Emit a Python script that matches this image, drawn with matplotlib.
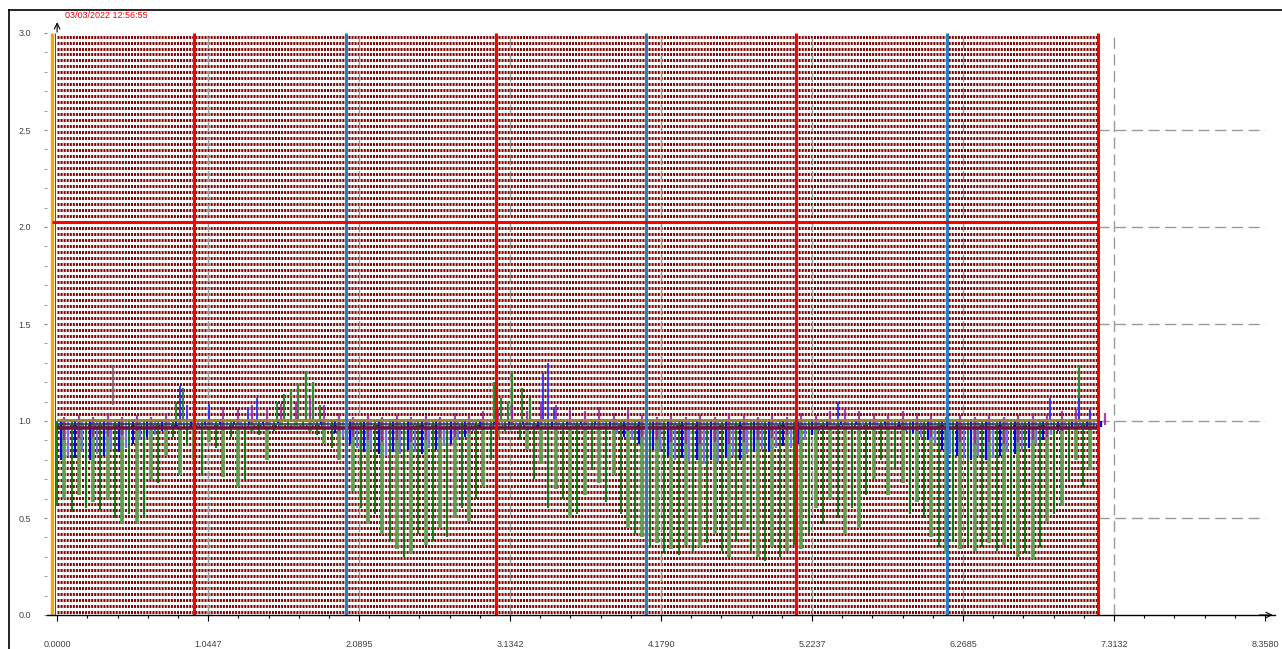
import numpy as np
import matplotlib
matplotlib.use("Agg")
import matplotlib.pyplot as plt
from matplotlib.lines import Line2D

plt.rcParams["font.family"] = ["Liberation Sans", "DejaVu Sans"]

timestamp = "03/03/2022 12:56:55"

x_max = 8.358
x_tick_labels = ["0.0000", "1.0447", "2.0895", "3.1342", "4.1790",
                 "5.2237", "6.2685", "7.3132", "8.3580"]
y_ticks = [0.0, 0.5, 1.0, 1.5, 2.0, 2.5, 3.0]
y_tick_labels = ["0.0", "0.5", "1.0", "1.5", "2.0", "2.5", "3.0"]

# sample spacing of the stems along x
sample_step = 0.05

# lower end of the green stems (one per sample)
green_low = [
    0.56, 0.60, 0.53, 0.62, 0.55, 0.58, 0.54, 0.60, 0.50, 0.47,
    0.52, 0.47, 0.50, 0.70, 0.68, 0.82, 0.92, 0.72, 0.87, 0.80,
    0.72, 0.89, 0.86, 0.71, 0.92, 0.66, 0.70, 0.95, 0.93, 0.80,
    0.95, 0.96, 0.97, 0.96, 0.97, 0.95, 0.93, 0.88, 0.86, 0.80,
    0.76, 0.64, 0.55, 0.47, 0.52, 0.42, 0.38, 0.34, 0.30, 0.32,
    0.42, 0.36, 0.38, 0.45, 0.40, 0.50, 0.55, 0.48, 0.60, 0.66,
    0.80, 0.92, 0.95, 0.96, 0.90, 0.85, 0.70, 0.78, 0.55, 0.65,
    0.60, 0.50, 0.52, 0.62, 0.75, 0.68, 0.58, 0.72, 0.52, 0.45,
    0.42, 0.40, 0.35, 0.37, 0.32, 0.34, 0.31, 0.36, 0.33, 0.35,
    0.37, 0.42, 0.33, 0.30, 0.38, 0.44, 0.33, 0.30, 0.28, 0.35,
    0.30, 0.33, 0.36, 0.34, 0.42, 0.55, 0.47, 0.60, 0.50, 0.42,
    0.55, 0.45, 0.62, 0.70, 0.80, 0.62, 0.75, 0.68, 0.52, 0.58,
    0.50, 0.40, 0.35, 0.32, 0.38, 0.34, 0.36, 0.33, 0.35, 0.37,
    0.33, 0.36, 0.34, 0.30, 0.32, 0.29, 0.35, 0.48, 0.52, 0.56,
    0.70, 0.80, 0.66, 0.75, 0.58,
]
green_spike_x = [0.82, 0.87, 1.52, 1.57, 1.62, 1.67, 1.72, 1.77, 1.82,
                 3.02, 3.07, 3.12, 3.15, 3.22, 3.27, 7.07]
green_spike_top = [1.10, 1.17, 1.10, 1.14, 1.16, 1.19, 1.26, 1.20, 1.08,
                   1.20, 1.12, 1.10, 1.26, 1.17, 1.12, 1.29]

# lower end of the blue stems
blue_low = [
    0.80, 0.82, 0.81, 0.84, 0.80, 0.83, 0.82, 0.85, 0.84, 0.86,
    0.88, 0.90, 0.92, 0.93, 0.95, 0.97, 0.96, 0.98, 0.97, 0.96,
    0.98, 0.97, 0.98, 0.96, 0.98, 0.97, 0.98, 0.99, 0.98, 0.97,
    0.99, 1.00, 1.00, 1.01, 1.00, 0.99, 0.98, 0.96, 0.94, 0.92,
    0.88, 0.86, 0.84, 0.85, 0.83, 0.82, 0.84, 0.83, 0.85, 0.84,
    0.83, 0.86, 0.85, 0.87, 0.88, 0.90, 0.92, 0.95, 0.96, 0.97,
    0.98, 0.99, 0.98, 0.99, 0.98, 0.97, 0.96, 0.98, 0.97, 0.98,
    0.98, 0.97, 0.98, 0.99, 0.98, 0.97, 0.96, 0.94, 0.92, 0.90,
    0.88, 0.86, 0.85, 0.84, 0.82, 0.80, 0.81, 0.79, 0.80, 0.78,
    0.80, 0.79, 0.81, 0.82, 0.80, 0.83, 0.84, 0.85, 0.84, 0.86,
    0.87, 0.86, 0.88, 0.90, 0.93, 0.95, 0.96, 0.97, 0.98, 0.97,
    0.98, 0.99, 0.98, 0.97, 0.98, 0.97, 0.96, 0.95, 0.94, 0.92,
    0.90, 0.88, 0.85, 0.83, 0.82, 0.81, 0.80, 0.82, 0.80, 0.81,
    0.82, 0.84, 0.83, 0.85, 0.86, 0.88, 0.90, 0.93, 0.95, 0.96,
    0.97, 0.96, 0.97, 0.98, 0.97,
]
blue_spike_x = [0.85, 0.90, 1.05, 1.32, 1.38, 3.36, 3.40, 3.44, 5.40, 6.87, 7.07, 7.15]
blue_spike_top = [1.18, 1.08, 1.09, 1.07, 1.12, 1.25, 1.30, 1.07, 1.10, 1.12, 1.12, 1.06]

# purple stems, one every 0.1
purple_top = [
    1.02, 1.03, 1.02, 1.04, 1.02, 1.03, 1.02, 1.04, 1.06, 1.08,
    1.05, 1.07, 1.06, 1.08, 1.07, 1.09, 1.10, 1.12, 1.08, 1.04,
    1.02, 1.03, 1.02, 1.03, 1.02, 1.03, 1.02, 1.04, 1.03, 1.05,
    1.06, 1.08, 1.05, 1.10, 1.08, 1.06, 1.05, 1.07, 1.04, 1.06,
    1.03, 1.02, 1.03, 1.02, 1.03, 1.02, 1.04, 1.03, 1.02, 1.03,
    1.02, 1.04, 1.03, 1.05, 1.06, 1.05, 1.04, 1.03, 1.05, 1.04,
    1.03, 1.02, 1.03, 1.02, 1.03, 1.02, 1.03, 1.04, 1.03, 1.05,
    1.06, 1.05, 1.04,
]
purple_bottom = [
    0.90, 0.91, 0.92, 0.92, 0.93, 0.95, 0.96, 0.97, 0.98, 0.98,
    0.98, 0.97, 0.98, 0.99, 0.99, 1.00, 1.00, 1.00, 0.98, 0.95,
    0.92, 0.90, 0.89, 0.90, 0.89, 0.90, 0.91, 0.92, 0.94, 0.97,
    0.98, 0.99, 0.98, 0.99, 0.99, 0.98, 0.98, 0.97, 0.97, 0.95,
    0.92, 0.90, 0.89, 0.88, 0.88, 0.89, 0.88, 0.89, 0.90, 0.91,
    0.93, 0.96, 0.97, 0.98, 0.98, 0.97, 0.98, 0.97, 0.96, 0.95,
    0.92, 0.90, 0.89, 0.88, 0.89, 0.88, 0.89, 0.90, 0.92, 0.95,
    0.97, 0.97, 0.98,
]

gray_spike_x = [0.39]
gray_spike_low = [1.08]
gray_spike_top = [1.29]

red_markers = [0.948, 3.038, 5.114, 7.204]
blue_markers = [2.0, 4.076, 6.159]
red_level = 2.026
band_levels = [1.005, 0.985, 0.962]
band_colors = ["#a08a30", "#303a50", "#6a1840"]
data_end = 7.204

fig = plt.figure(figsize=(12.82, 6.49), dpi=100)
ax = fig.add_axes([47 / 1282, 34 / 649, 1228 / 1282, 582 / 649])
ax.set_xlim(-0.07, 8.427)
ax.set_ylim(0, 3.0)

# horizontal grid only shows right of the background rows
ax.hlines(y_ticks[1:6], data_end, x_max, colors="#9a9a9a", lw=1.0,
          linestyles=[(0, (8, 4))], zorder=0.5)

# dense dark-red dashed background rows
rows = np.arange(0.0155, 3.0, 0.0309)
ax.hlines(rows, 0, data_end, colors="#800000", lw=2.1,
          linestyles=[(0, (0.7, 0.35))], zorder=1)

major_x = np.linspace(0, x_max, 9)
ax.vlines(major_x[1:8], 0, 3.0, colors="#9a9a9a", lw=1.0,
          linestyles=[(0, (8, 4))], zorder=1.5)

# stems
gx = np.arange(len(green_low)) * sample_step
green_colors = ["#007a00", "#5f9f4f"] * len(green_low)
green_widths = [1.3, 2.6] * len(green_low)
ax.vlines(gx, green_low, 1.0, colors=green_colors[:len(gx)],
          lw=green_widths[:len(gx)], zorder=3)
ax.vlines(green_spike_x, 1.0, green_spike_top, colors="#2e8b2e", lw=1.6, zorder=3)

bx = np.arange(len(blue_low)) * sample_step + sample_step / 2
blue_colors = ["#0000ff", "#7070f0"] * len(blue_low)
ax.vlines(bx, blue_low, 1.0, colors=blue_colors[:len(bx)], lw=1.6, zorder=3.2)
ax.vlines(blue_spike_x, 1.0, blue_spike_top, colors="#3030ff", lw=1.3, zorder=3.2)

px = np.arange(len(purple_top)) * 0.1 + 0.05
ax.vlines(px, purple_bottom, purple_top, colors="#a020a0", lw=1.6, alpha=0.85, zorder=3.1)
ax.vlines(gray_spike_x, gray_spike_low, gray_spike_top, colors="#806070", lw=1.2, zorder=3)

ax.hlines(band_levels, 0, data_end, colors=band_colors, lw=[1.8, 1.2, 2.6], zorder=3.5)

# markers
ax.vlines(-0.035, 0, 3.0, colors="#ffa500", lw=2.4, zorder=5)
ax.vlines(-0.012, 0, 3.0, colors="#ff0000", lw=0.7, zorder=5)
ax.vlines(red_markers, 0, 3.0, colors="#ff0000", lw=2.2, zorder=5)
ax.vlines(blue_markers, 0, 3.0, colors="#2a7fc4", lw=2.2, zorder=5)
ax.hlines(red_level, -0.035, data_end, colors="#ff0000", lw=2.2, zorder=5)

# axes styling
for side in ["top", "right", "left"]:
    ax.spines[side].set_visible(False)
ax.spines["bottom"].set_color("black")
ax.spines["bottom"].set_linewidth(1.0)
ax.spines["bottom"].set_zorder(6)

ax.set_xticks(major_x)
ax.set_xticklabels(x_tick_labels)
ax.set_xticks(np.linspace(0, x_max, 41), minor=True)
ax.tick_params(axis="x", which="major", length=4.3, width=0.8, pad=13.5,
               labelsize=6.5, labelcolor="#404040", color="black")
ax.tick_params(axis="x", which="minor", length=2.2, width=0.8, color="black")

ax.set_yticks(y_ticks)
ax.set_yticklabels(y_tick_labels)
ax.set_yticks(np.arange(0, 3.01, 0.1), minor=True)
ax.tick_params(axis="y", which="major", length=2.5, width=0.8, pad=9,
               labelsize=6.5, labelcolor="#404040", color="#7090b0")
ax.tick_params(axis="y", which="minor", length=2.0, width=0.6, color="#7090b0")

ax.annotate("", xy=(0, 3.07), xytext=(0, 2.99),
            arrowprops=dict(arrowstyle="->", color="black", lw=0.8),
            annotation_clip=False)
ax.annotate("", xy=(8.43, 0), xytext=(8.3, 0),
            arrowprops=dict(arrowstyle="->", color="black", lw=0.8),
            annotation_clip=False)

fig.text(65 / 1282, 1 - 15 / 649, timestamp, color="#ff0000", fontsize=6.5,
         ha="left", va="center")

# outer frame
fig.add_artist(Line2D([9 / 1282, 9 / 1282], [0, 1 - 10 / 649], color="black", lw=1.2))
fig.add_artist(Line2D([9 / 1282, 1], [1 - 10 / 649, 1 - 10 / 649], color="black", lw=1.2))

fig.savefig("out.png", dpi=100)
plt.close(fig)
